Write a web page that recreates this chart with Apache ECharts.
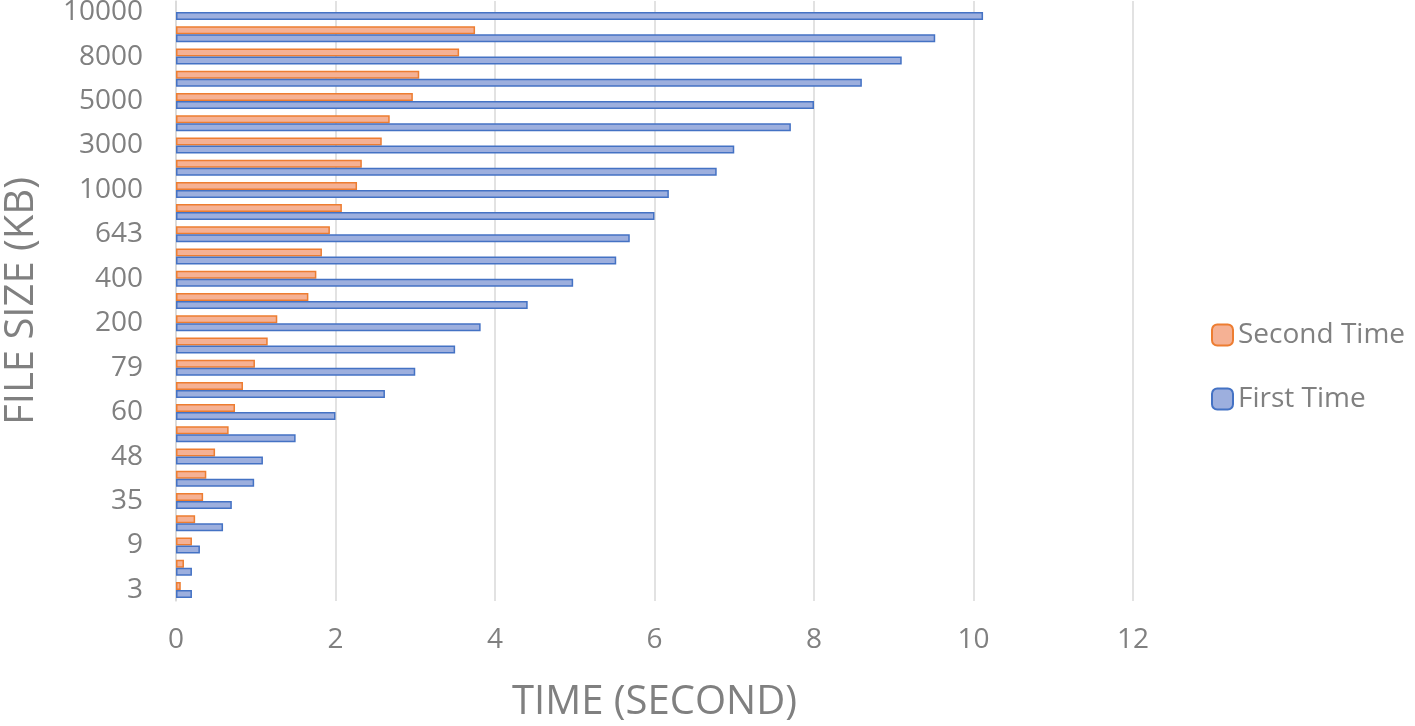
<html>

<head>
    <title>File Size vs Time</title>
    <meta charset="utf-8" />
</head>

<body style="margin:0;background:#fff;">
    <div id="main" style="width:1415px;height:726px;"></div>
    <script src="https://cdn.jsdelivr.net/npm/echarts@6/dist/echarts.min.js" type="text/javascript"></script>
    <script type="text/javascript">
        var myChart = echarts.init(document.getElementById('main'));

        // file sizes (KB), bottom to top; only every other label is shown
        var fileSizes = ['3', '5', '9', '20', '35', '40', '48', '55', '60', '70', '79', '100', '200', '300',
            '400', '500', '643', '800', '1000', '2000', '3000', '4000', '5000', '7000', '8000', '9000', '10000'];

        var secondTime = [0.06, 0.1, 0.2, 0.24, 0.34, 0.38, 0.49, 0.66, 0.74, 0.84, 0.99, 1.15, 1.27, 1.66,
            1.76, 1.83, 1.93, 2.08, 2.27, 2.33, 2.58, 2.68, 2.97, 3.05, 3.55, 3.75, '-'];

        var firstTime = [0.2, 0.2, 0.3, 0.59, 0.7, 0.98, 1.09, 1.5, 2.0, 2.62, 3.0, 3.5, 3.82, 4.41,
            4.98, 5.52, 5.69, 6.0, 6.18, 6.78, 7.0, 7.71, 8.0, 8.6, 9.1, 9.52, 10.12];

        var textColor = '#808080';
        var fontName = 'Open Sans';

        var option = {
            animation: false,
            textStyle: { fontFamily: fontName },
            legend: {
                orient: 'vertical',
                left: 1206,
                top: 316,
                itemWidth: 21,
                itemHeight: 21,
                itemGap: 36,
                textStyle: { color: textColor, fontSize: 28, fontFamily: fontName },
                data: ['Second Time', 'First Time']
            },
            grid: {
                left: 176,
                right: 282,
                top: 1,
                bottom: 125,
                outerBoundsMode: 'none'
            },
            xAxis: {
                type: 'value',
                min: 0,
                max: 12,
                interval: 2,
                name: 'TIME (SECOND)',
                nameLocation: 'middle',
                nameGap: 82,
                nameTextStyle: { color: textColor, fontSize: 40, fontFamily: fontName },
                axisLine: { show: false },
                axisTick: { show: false },
                axisLabel: { color: textColor, fontSize: 28, margin: 25 },
                splitLine: { lineStyle: { color: '#d9d9d9', width: 1.5 } }
            },
            yAxis: {
                type: 'category',
                data: fileSizes,
                name: 'FILE SIZE (KB)',
                nameLocation: 'middle',
                nameGap: 134,
                nameTextStyle: { color: textColor, fontSize: 40, fontFamily: fontName },
                axisLine: { lineStyle: { color: '#d9d9d9', width: 1.5 } },
                axisTick: { show: false },
                axisLabel: { color: textColor, fontSize: 28, interval: 1, margin: 33 }
            },
            series: [
                {
                    name: 'Second Time',
                    type: 'bar',
                    data: secondTime,
                    barWidth: 8,
                    barGap: '0%',
                    itemStyle: { color: '#f5b194', borderColor: '#ed7d31', borderWidth: 1.5 }
                },
                {
                    name: 'First Time',
                    type: 'bar',
                    data: firstTime,
                    barWidth: 8,
                    barGap: '0%',
                    itemStyle: { color: '#9dafde', borderColor: '#4472c4', borderWidth: 1.5 }
                }
            ]
        };

        myChart.setOption(option);
    </script>
</body>

</html>
